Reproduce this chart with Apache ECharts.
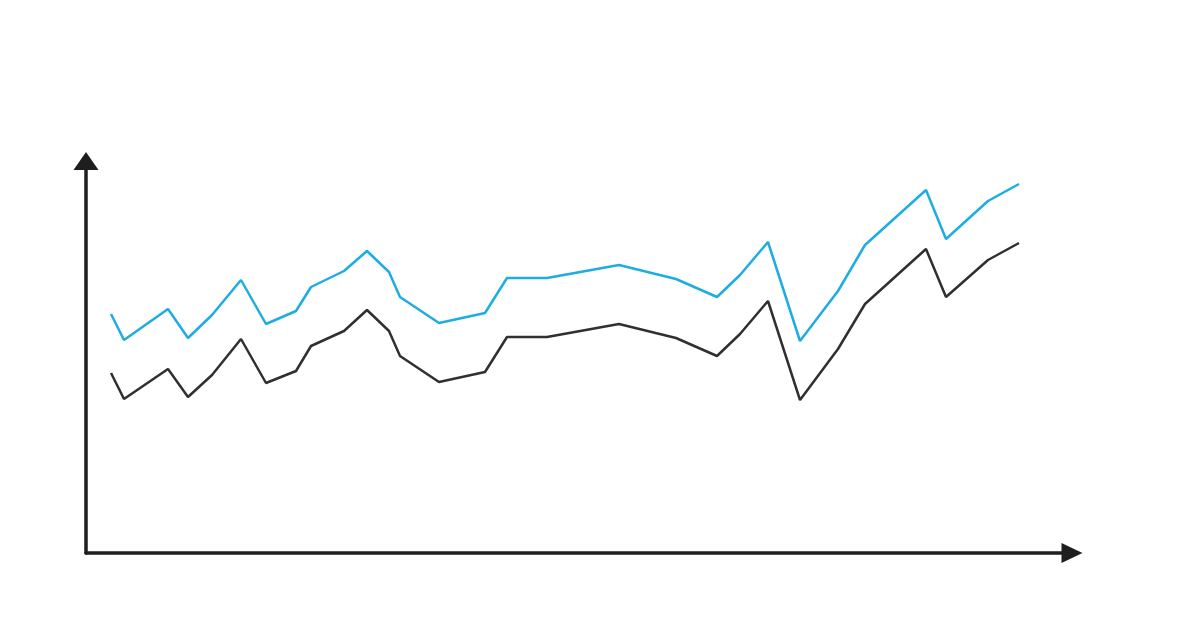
<!DOCTYPE html>
<html>
<head>
<meta charset="utf-8">
<script src="https://cdn.jsdelivr.net/npm/echarts@6/dist/echarts.min.js"></script>
<style>html,body{margin:0;padding:0;background:#fff;}#c{width:1200px;height:638px;}</style>
</head>
<body>
<div id="c"></div>
<script>
var xs = [25,38,82,102,126,155,180,210,225,258,281,303,314,353,399,421,461,533,590,631,654,682,714,752,779,840,860,902,933];
var blueVals = [239,213,244,215,238,273,229,242,266,282,302,281,256,230,240,275,275,288,274,256,278,311,212,262,308,363,314,352,369];
var blackVals = [180,154,184,156,178,214,170,182,207,222,243,222,197,171,181,216,216,229,215,197,219,252,153,204,249,304,256,293,310];

function pairs(vals){ return xs.map(function(x,i){ return [x, vals[i]]; }); }

var chart = echarts.init(document.getElementById('c'), null, {renderer:'canvas'});
chart.setOption({
  animation: false,
  backgroundColor: '#ffffff',
  grid: { left: 86, right: 128, top: 161, bottom: 85, containLabel: false },
  xAxis: {
    type: 'value', min: 0, max: 986,
    axisLine: { show: true, symbol: ['none','triangle'], symbolSize: [20,21], lineStyle: { color: '#1e1e1e', width: 3.5 } },
    axisTick: { show: false }, axisLabel: { show: false }, splitLine: { show: false }
  },
  yAxis: {
    type: 'value', min: 0, max: 392,
    axisLine: { show: true, symbol: ['none','triangle'], symbolSize: [25,18], lineStyle: { color: '#1e1e1e', width: 3.5 } },
    axisTick: { show: false }, axisLabel: { show: false }, splitLine: { show: false }
  },
  series: [
    { type: 'line', data: pairs(blueVals), showSymbol: false, symbol: 'none', lineStyle: { color: '#1dade3', width: 2.5 } },
    { type: 'line', data: pairs(blackVals), showSymbol: false, symbol: 'none', lineStyle: { color: '#303030', width: 2.5 } }
  ]
});
</script>
</body>
</html>
